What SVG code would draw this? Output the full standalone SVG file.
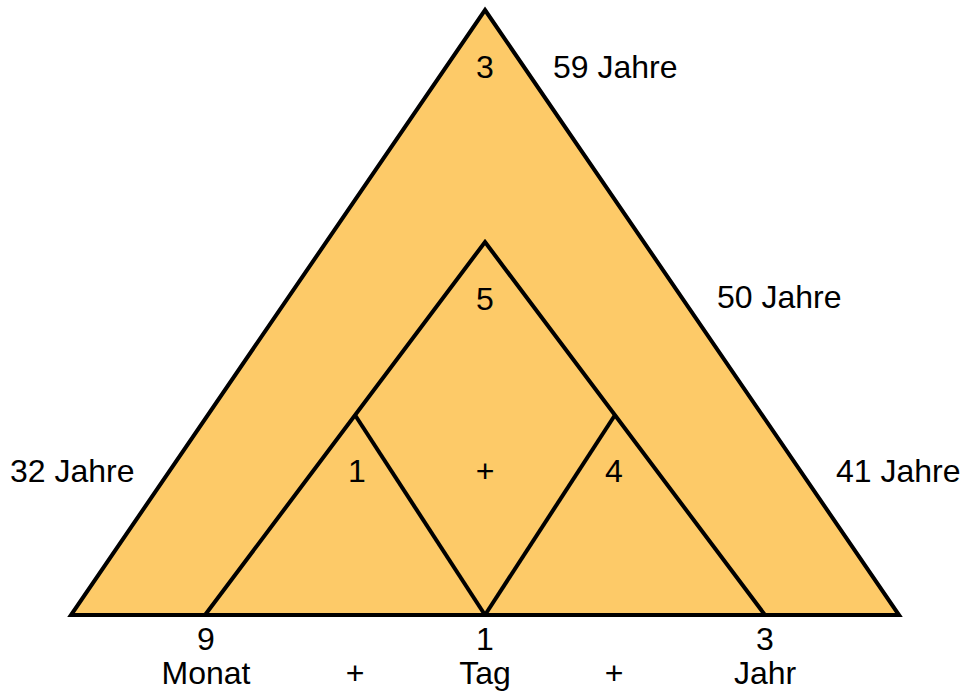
<svg xmlns="http://www.w3.org/2000/svg" width="964" height="693" viewBox="0 0 964 693">
<style>
.shape{fill:#fdca68;stroke:#000;stroke-width:4;stroke-linejoin:miter}
.ln{fill:none;stroke:#000;stroke-width:4}
text{font-family:"Liberation Sans",Arial,sans-serif;font-size:32px;fill:#000}
.c{text-anchor:middle}
</style>
<rect width="964" height="693" fill="#fff"/>
<g id="outer"><polygon class="shape" points="485,10 899,615 71,615"/></g>
<g id="inner"><polygon class="shape" points="485,242 765,615 205,615"/></g>
<g id="connectors">
<line class="ln" x1="355" y1="415" x2="485" y2="615"/>
<line class="ln" x1="615" y1="415" x2="485" y2="615"/>
</g>
<g id="labels">
<text class="c" x="485" y="78">3</text>
<text x="553" y="78">59 Jahre</text>
<text x="717" y="308">50 Jahre</text>
<text x="10" y="482">32 Jahre</text>
<text x="836" y="482">41 Jahre</text>
<text class="c" x="485" y="310">5</text>
<text class="c" x="357" y="482">1</text>
<text class="c" x="485" y="482">+</text>
<text class="c" x="614" y="482">4</text>
<text class="c" x="206" y="650">9</text>
<text class="c" x="485" y="650">1</text>
<text class="c" x="765" y="650">3</text>
<text class="c" x="206" y="684">Monat</text>
<text class="c" x="355" y="684">+</text>
<text class="c" x="485" y="684">Tag</text>
<text class="c" x="614" y="684">+</text>
<text class="c" x="765" y="684">Jahr</text>
</g>
</svg>
